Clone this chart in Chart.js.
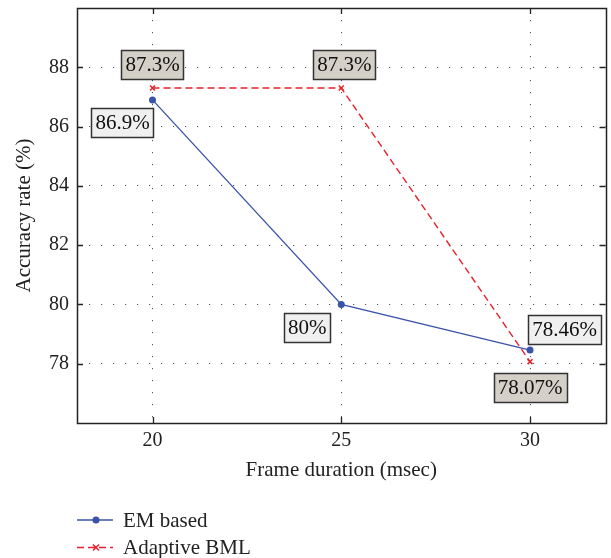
<!DOCTYPE html>
<html>
<head>
<meta charset="utf-8">
<script src="https://cdn.jsdelivr.net/npm/chart.js@4.4.1/dist/chart.umd.min.js"></script>
<style>
html,body{margin:0;padding:0;background:#fff;}
#wrap{width:611px;height:558px;position:relative;}
</style>
</head>
<body>
<div id="wrap"><canvas id="c" width="611" height="558"></canvas></div>
<script>
const frameDurations = [20, 25, 30];
const emBased = [86.9, 80, 78.46];
const adaptiveBML = [87.3, 87.3, 78.07];
const emLabels = ['86.9%', '80%', '78.46%'];
const bmlLabels = ['87.3%', '87.3%', '78.07%'];
const yTicks = [78, 80, 82, 84, 86, 88];
const xTicks = [20, 25, 30];

const FONT = "'Liberation Serif', 'DejaVu Serif', serif";
const BLUE = '#3a53a8';
const RED = '#e8202a';

const framePlugin = {
  id: 'frame',
  afterDraw(chart) {
    const {ctx, chartArea: a, scales} = chart;
    ctx.save();
    ctx.strokeStyle = '#222';
    ctx.lineWidth = 1.3;
    ctx.beginPath();
    xTicks.forEach(v => {
      const x = Math.round(scales.x.getPixelForValue(v)) + 0.5;
      ctx.moveTo(x, a.bottom); ctx.lineTo(x, a.bottom - 6);
      ctx.moveTo(x, a.top); ctx.lineTo(x, a.top + 6);
    });
    yTicks.forEach(v => {
      const y = Math.round(scales.y.getPixelForValue(v)) + 0.5;
      ctx.moveTo(a.left, y); ctx.lineTo(a.left + 6, y);
      ctx.moveTo(a.right, y); ctx.lineTo(a.right - 6, y);
    });
    ctx.stroke();
    ctx.lineWidth = 1.5;
    ctx.strokeRect(Math.round(a.left) + 0.5, Math.round(a.top) + 0.5, Math.round(a.right - a.left), Math.round(a.bottom - a.top));
    ctx.restore();
  }
};

const labelPlugin = {
  id: 'boxLabels',
  afterDatasetsDraw(chart, args, opts) {
    const {ctx} = chart;
    ctx.save();
    ctx.font = '21px ' + FONT;
    ctx.textAlign = 'center';
    ctx.textBaseline = 'middle';
    chart.data.datasets.forEach((ds, di) => {
      const meta = chart.getDatasetMeta(di);
      const offs = opts.offsets[di];
      meta.data.forEach((pt, i) => {
        const text = ds.boxLabels[i];
        const cx = pt.x + offs[i][0];
        const cy = pt.y + offs[i][1];
        const w = ctx.measureText(text).width + 8;
        const h = 29;
        const x0 = Math.round(cx - w / 2) + 0.5;
        const y0 = Math.round(cy - h / 2) + 0.5;
        ctx.fillStyle = ds.boxFill;
        ctx.fillRect(x0, y0, Math.round(w), h);
        ctx.strokeStyle = '#333';
        ctx.lineWidth = 1.5;
        ctx.strokeRect(x0, y0, Math.round(w), h);
        ctx.fillStyle = '#111';
        ctx.fillText(text, cx, cy + 1);
      });
    });
    ctx.restore();
  }
};

function drawMarker(ctx, style, x, y, color) {
  ctx.save();
  ctx.setLineDash([]);
  ctx.fillStyle = color;
  ctx.strokeStyle = color;
  if (style === 'circle') {
    ctx.beginPath(); ctx.arc(x, y, 3.5, 0, Math.PI * 2); ctx.fill();
  } else {
    ctx.lineWidth = 1.5;
    const r = 3;
    ctx.beginPath();
    ctx.moveTo(x - r, y - r); ctx.lineTo(x + r, y + r);
    ctx.moveTo(x - r, y + r); ctx.lineTo(x + r, y - r);
    ctx.stroke();
  }
  ctx.restore();
}

const legendPlugin = {
  id: 'customLegend',
  afterDraw(chart) {
    const {ctx} = chart;
    ctx.save();
    chart.data.datasets.forEach((ds, i) => {
      const y = 520 + i * 27.5;
      ctx.strokeStyle = ds.borderColor;
      ctx.lineWidth = 1.3;
      ctx.setLineDash(ds.borderDash || []);
      ctx.beginPath(); ctx.moveTo(77, y); ctx.lineTo(113, y); ctx.stroke();
      drawMarker(ctx, ds.pointStyle, 96, y, ds.borderColor);
      ctx.setLineDash([]);
      ctx.fillStyle = '#222';
      ctx.font = '21px ' + FONT;
      ctx.textAlign = 'left';
      ctx.textBaseline = 'middle';
      ctx.fillText(ds.label, 123, y + 1);
    });
    ctx.restore();
  }
};

new Chart(document.getElementById('c'), {
  type: 'line',
  data: {
    datasets: [
      {
        label: 'EM based',
        data: frameDurations.map((x, i) => ({x, y: emBased[i]})),
        boxLabels: emLabels,
        boxFill: '#f0f0f0',
        borderColor: BLUE,
        backgroundColor: BLUE,
        borderWidth: 1.3,
        pointStyle: 'circle',
        pointRadius: 3.5,
        pointBorderWidth: 0,
        tension: 0,
        fill: false
      },
      {
        label: 'Adaptive BML',
        data: frameDurations.map((x, i) => ({x, y: adaptiveBML[i]})),
        boxLabels: bmlLabels,
        boxFill: '#d4d0c8',
        borderColor: RED,
        backgroundColor: RED,
        borderWidth: 1.4,
        borderDash: [7, 4],
        pointStyle: 'crossRot',
        pointRadius: 3.5,
        pointBorderWidth: 1.5,
        tension: 0,
        fill: false
      }
    ]
  },
  options: {
    responsive: false,
    animation: false,
    layout: {padding: {top: 8, right: 4, left: 0, bottom: 0}},
    plugins: {
      legend: {display: false},
      tooltip: {enabled: false},
      boxLabels: {
        offsets: [
          [[-30, 23], [-34, 23], [34.5, -21]],
          [[0, -24], [3, -24], [0, 26]]
        ]
      }
    },
    scales: {
      x: {
        type: 'linear',
        min: 18,
        max: 32,
        afterBuildTicks: s => { s.ticks = xTicks.map(v => ({value: v})); },
        afterFit: s => { s.height = 135; s.paddingLeft = 0; s.paddingRight = 0; },
        ticks: {
          font: {family: FONT, size: 20},
          color: '#222',
          padding: 6,
          maxRotation: 0
        },
        grid: {color: '#555', lineWidth: 1, drawTicks: false},
        border: {display: false, dash: [1.2, 10.8]},
        title: {
          display: true,
          text: 'Frame duration (msec)',
          font: {family: FONT, size: 21},
          color: '#222',
          padding: {top: 0, bottom: 75}
        }
      },
      y: {
        min: 76,
        max: 90,
        afterBuildTicks: s => { s.ticks = yTicks.map(v => ({value: v})); },
        afterFit: s => { s.width = 77; s.paddingTop = 0; s.paddingBottom = 0; },
        ticks: {
          font: {family: FONT, size: 20},
          color: '#222',
          padding: 8
        },
        grid: {color: '#555', lineWidth: 1, drawTicks: false},
        border: {display: false, dash: [1.2, 10.8]},
        title: {
          display: true,
          text: 'Accuracy rate (%)',
          font: {family: FONT, size: 21},
          color: '#222',
          padding: {top: 12, bottom: 0}
        }
      }
    }
  },
  plugins: [framePlugin, labelPlugin, legendPlugin]
});
</script>
</body>
</html>
